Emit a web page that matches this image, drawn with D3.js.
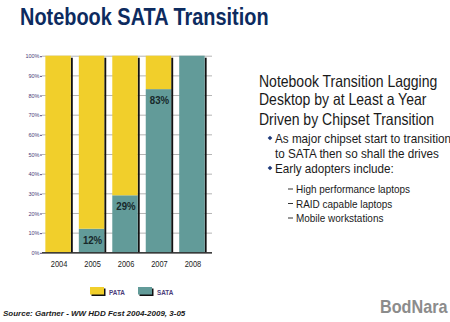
<!DOCTYPE html>
<html>
<head>
<meta charset="utf-8">
<script src="https://cdn.jsdelivr.net/npm/d3@7"></script>
<style>
  html, body { margin: 0; padding: 0; background: #fff; }
  svg { display: block; font-family: "Liberation Sans", Arial, sans-serif; }
</style>
</head>
<body>
<svg id="slide" width="450" height="322"></svg>
<script>
// share of notebook drives by interface, percent
const years = ["2004", "2005", "2006", "2007", "2008"];
const sataShare = [0, 12, 29, 83, 100];
const pataShare = [100, 88, 71, 17, 0];
const labelYears = ["2005", "2006", "2007"];
const yTicks = [0, 10, 20, 30, 40, 50, 60, 70, 80, 90, 100];
const legendNames = ["PATA", "SATA"];

const bulletLines = [
  { text: "Notebook Transition Lagging", level: 0, y: 87 },
  { text: "Desktop by at Least a Year", level: 0, y: 105 },
  { text: "Driven by Chipset Transition", level: 0, y: 125 },
  { text: "As major chipset start to transition", level: 1, y: 143, mark: true },
  { text: "to SATA then so shall the drives", level: 1, y: 158 },
  { text: "Early adopters include:", level: 1, y: 173, mark: true },
  { text: "High performance laptops", level: 2, y: 193 },
  { text: "RAID capable laptops", level: 2, y: 207.5 },
  { text: "Mobile workstations", level: 2, y: 222 }
];

const colors = { PATA: "#f1cf2b", SATA: "#629b99" };

const svg = d3.select("#slide");

// title
svg.append("text")
  .attr("transform", "translate(20,25) scale(0.83,1)")
  .attr("font-size", 24)
  .attr("font-weight", "bold")
  .attr("fill", "#0d2b5f")
  .text("Notebook SATA Transition");

// ---- stacked bar chart ----
const plotLeft = 42, plotRight = 212;
const x = d3.scaleBand().domain(years).range([40, 210]).paddingInner(0.24).paddingOuter(0.16);
const y = d3.scaleLinear().domain([0, 100]).range([252.3, 55.7]);

const rows = years.map((yr, i) => ({ year: yr, SATA: sataShare[i], PATA: pataShare[i] }));
const stacked = d3.stack().keys(["SATA", "PATA"])(rows);

const chart = svg.append("g");

// gridlines
chart.append("g")
  .selectAll("line")
  .data(yTicks)
  .join("line")
  .attr("x1", plotLeft).attr("x2", plotRight)
  .attr("y1", d => y(d) + 0.5).attr("y2", d => y(d) + 0.5)
  .attr("stroke", "#b4b4b4")
  .attr("stroke-width", 1);

// y axis labels
const yAxis = chart.append("g")
  .attr("transform", `translate(${plotLeft},0.5)`)
  .call(d3.axisLeft(y).tickValues(yTicks).tickFormat(d => d + "%").tickSize(2).tickPadding(0.5));
yAxis.select(".domain").remove();
yAxis.selectAll(".tick line").attr("stroke", "#5a4a80");
yAxis.selectAll("text")
  .attr("font-size", 5.5)
  .attr("font-family", "Liberation Sans, Arial, sans-serif")
  .attr("fill", "#4c3d7a");

// bar shadows
chart.append("g")
  .selectAll("rect")
  .data(rows)
  .join("rect")
  .attr("x", d => x(d.year) + x.bandwidth())
  .attr("y", y(100) + 2)
  .attr("width", 2)
  .attr("height", y(0) - y(100) - 2)
  .attr("fill", "#111");

// stacked segments
chart.append("g")
  .selectAll("g")
  .data(stacked)
  .join("g")
  .attr("fill", s => colors[s.key])
  .selectAll("rect")
  .data(s => s)
  .join("rect")
  .attr("x", d => x(d.data.year))
  .attr("y", d => y(d[1]))
  .attr("width", x.bandwidth())
  .attr("height", d => y(d[0]) - y(d[1]));

// baseline
chart.append("line")
  .attr("x1", plotLeft).attr("x2", plotRight)
  .attr("y1", y(0) + 0.5).attr("y2", y(0) + 0.5)
  .attr("stroke", "#111")
  .attr("stroke-width", 1.2);

// SATA share labels
chart.append("g")
  .selectAll("text")
  .data(rows.filter(d => labelYears.includes(d.year)))
  .join("text")
  .attr("transform", d => `translate(${x(d.year) + x.bandwidth() / 2 + 1},${y(d.SATA) + 15}) scale(0.92,1)`)
  .attr("text-anchor", "middle")
  .attr("font-size", 10.5)
  .attr("font-weight", "bold")
  .attr("fill", "#17282a")
  .text(d => d.SATA + "%");

// year labels
chart.append("g")
  .selectAll("text")
  .data(years)
  .join("text")
  .attr("transform", d => `translate(${x(d) + x.bandwidth() / 2 + 1},266.5) scale(0.8,1)`)
  .attr("text-anchor", "middle")
  .attr("font-size", 9.3)
  .attr("fill", "#222")
  .text(d => d);

// legend
const legend = svg.append("g")
  .selectAll("g")
  .data(legendNames)
  .join("g")
  .attr("transform", (d, i) => `translate(${90 + i * 48},287)`);
legend.append("rect")
  .attr("x", 1.5).attr("y", 1.5).attr("width", 14).attr("height", 7.5)
  .attr("fill", "#111");
legend.append("rect")
  .attr("width", 14).attr("height", 7.5)
  .attr("fill", d => colors[d]);
legend.append("text")
  .attr("transform", "translate(19,7.5) scale(0.85,1)")
  .attr("font-size", 7.5)
  .attr("font-weight", "bold")
  .attr("fill", "#4c3d7a")
  .text(d => d);

// ---- bullet text ----
const notes = svg.append("g");
const levelX = [259, 275, 296];
const levelSize = [16.3, 13.6, 11.6];
notes.selectAll("text")
  .data(bulletLines)
  .join("text")
  .attr("transform", d => `translate(${levelX[d.level]},${d.y}) scale(0.86,1)`)
  .attr("font-size", d => levelSize[d.level])
  .attr("fill", "#1a1a1a")
  .text(d => d.text);

// diamond bullets
notes.selectAll("path.mark")
  .data(bulletLines.filter(d => d.mark))
  .join("path")
  .attr("class", "mark")
  .attr("d", d3.symbol(d3.symbolDiamond2, 14))
  .attr("transform", d => `translate(${levelX[1] - 5},${d.y - 5})`)
  .attr("fill", "#1e3a7a");

// dashes for sub items
notes.selectAll("line.dash")
  .data(bulletLines.filter(d => d.level === 2))
  .join("line")
  .attr("class", "dash")
  .attr("x1", 288).attr("x2", 293)
  .attr("y1", d => d.y - 4).attr("y2", d => d.y - 4)
  .attr("stroke", "#333")
  .attr("stroke-width", 1);

// footer
svg.append("text")
  .attr("x", 3).attr("y", 315.5)
  .attr("font-size", 8)
  .attr("font-weight", "bold")
  .attr("font-style", "italic")
  .attr("fill", "#1a1a1a")
  .text("Source: Gartner - WW HDD Fcst 2004-2009, 3-05");

svg.append("text")
  .attr("transform", "translate(380,312.5) scale(0.9,1)")
  .attr("font-size", 18)
  .attr("font-weight", "bold")
  .attr("fill", "#8c8c8c")
  .text("BodNara");
</script>
</body>
</html>
